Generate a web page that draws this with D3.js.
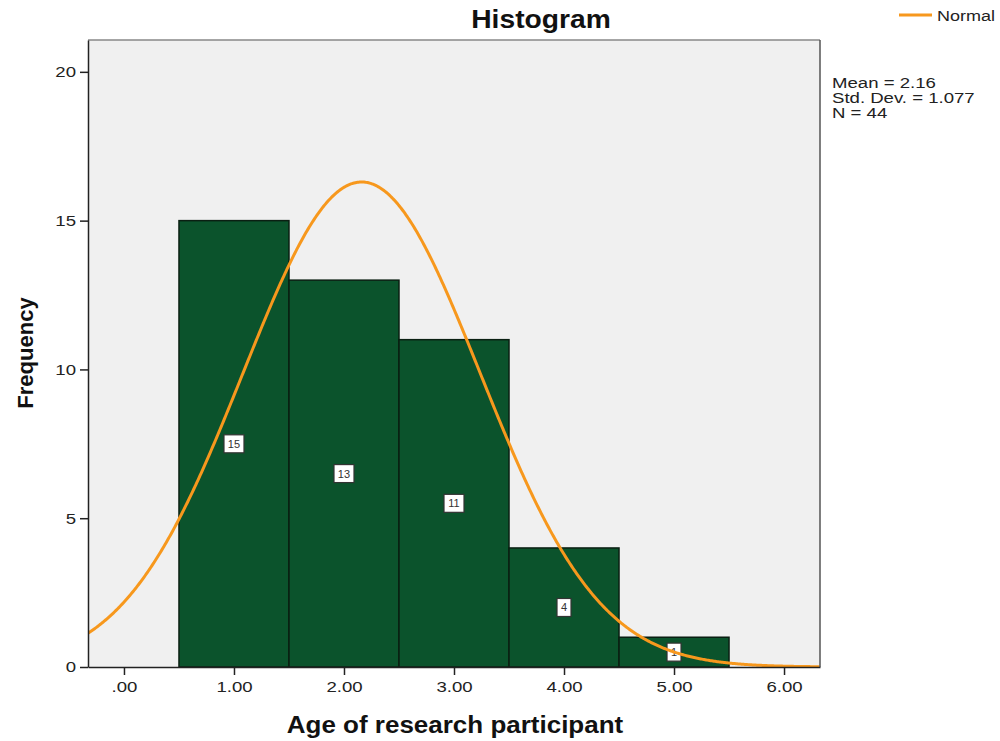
<!DOCTYPE html>
<html>
<head>
<meta charset="utf-8">
<script src="https://cdn.jsdelivr.net/npm/d3@7"></script>
<style>
  body { margin: 0; background: #fff; }
  text { font-family: Arial, "Liberation Sans", sans-serif; }
</style>
</head>
<body>
<div id="chart"></div>
<script>
// bins of the histogram (lower / upper edge) and their counts
const binStart = [0.5, 1.5, 2.5, 3.5, 4.5];
const binEnd = [1.5, 2.5, 3.5, 4.5, 5.5];
const counts = [15, 13, 11, 4, 1];
const xTicks = [0, 1, 2, 3, 4, 5, 6];
const xTickLabels = [".00", "1.00", "2.00", "3.00", "4.00", "5.00", "6.00"];
const yTicks = [0, 5, 10, 15, 20];
const mean = 2.16, sd = 1.077, n = 44;

// SPSS text renders wider than Arial, stretch it a bit
const wide = 1.24, wideBold = 1.13;

var margin = {top: 40, right: 180, bottom: 74, left: 88},
  width = 1000 - margin.left - margin.right,
  height = 741 - margin.top - margin.bottom;

var svgRoot = d3.select("#chart").append("svg")
  .attr("width", 1000).attr("height", 741);
var svg = svgRoot.append("g")
  .attr("transform", "translate(" + margin.left + "," + margin.top + ")");

const x = d3.scaleLinear().domain([-0.327, 6.327]).range([0, width]);
const y = d3.scaleLinear().domain([0, 21.07]).range([height, 0]);

svg.append("defs").append("clipPath").attr("id", "clip")
  .append("rect").attr("width", width).attr("height", height);

// plot background
svg.append("rect")
  .attr("width", width).attr("height", height)
  .attr("fill", "#f0f0f0");

// bars
svg.selectAll(".bar")
  .data(counts)
  .enter().append("rect")
  .attr("x", (d, i) => x(binStart[i]))
  .attr("width", (d, i) => x(binEnd[i]) - x(binStart[i]))
  .attr("y", d => y(d))
  .attr("height", d => height - y(d))
  .attr("fill", "#0b532c")
  .attr("stroke", "#0a1f12")
  .attr("stroke-width", 1.5);

// count labels in the middle of each bar
var lab = svg.selectAll(".lab")
  .data(counts)
  .enter().append("g")
  .attr("transform", (d, i) => "translate(" + x((binStart[i] + binEnd[i]) / 2) + "," + y(d / 2) + ")");
lab.append("rect")
  .attr("x", d => d >= 10 ? -10 : -7).attr("y", -9)
  .attr("width", d => d >= 10 ? 20 : 14).attr("height", 18)
  .attr("fill", "#fff").attr("stroke", "#333").attr("stroke-width", 1.2);
lab.append("text")
  .attr("text-anchor", "middle").attr("dy", "0.36em")
  .attr("font-size", 11).attr("fill", "#333")
  .text(d => d);

// normal curve from mean / sd / N
const scaleF = n * 1 / (sd * Math.sqrt(2 * Math.PI));
const xs = d3.range(-0.327, 6.33, 0.01);
const curve = xs.map(v => [v, scaleF * Math.exp(-0.5 * Math.pow((v - mean) / sd, 2))]);
svg.append("path")
  .datum(curve)
  .attr("clip-path", "url(#clip)")
  .attr("fill", "none")
  .attr("stroke", "#f7981d")
  .attr("stroke-width", 3)
  .attr("d", d3.line().x(d => x(d[0])).y(d => y(d[1])));

// frame
svg.append("line").attr("x1", 0).attr("x2", width).attr("y1", 0).attr("y2", 0)
  .attr("stroke", "#888").attr("stroke-width", 1.5);
svg.append("line").attr("x1", width).attr("x2", width).attr("y1", 0).attr("y2", height)
  .attr("stroke", "#555").attr("stroke-width", 1.5);

// axes
var xAxis = svg.append("g")
  .attr("transform", "translate(0," + height + ")")
  .call(d3.axisBottom(x).tickValues(xTicks).tickSize(8).tickSizeOuter(0).tickPadding(6)
    .tickFormat((d, i) => xTickLabels[i]));
xAxis.select(".domain").attr("stroke", "#222").attr("stroke-width", 1.5);
xAxis.selectAll("line").attr("stroke", "#222").attr("stroke-width", 1.5);
xAxis.selectAll("text").attr("font-size", 15).attr("fill", "#222")
  .style("font-family", "Arial, 'Liberation Sans', sans-serif")
  .attr("transform", "scale(" + wide + ",1)");

var yAxis = svg.append("g")
  .call(d3.axisLeft(y).tickValues(yTicks).tickSize(8).tickSizeOuter(0).tickPadding(4));
yAxis.select(".domain").attr("stroke", "#222").attr("stroke-width", 1.5);
yAxis.selectAll("line").attr("stroke", "#222").attr("stroke-width", 1.5);
yAxis.selectAll("text").attr("font-size", 15).attr("fill", "#222")
  .style("font-family", "Arial, 'Liberation Sans', sans-serif")
  .attr("x", -12 / wide)
  .attr("transform", "scale(" + wide + ",1)");

// titles
svgRoot.append("text")
  .attr("transform", "translate(541,28) scale(" + wideBold + ",1)")
  .attr("text-anchor", "middle")
  .attr("font-size", 25).attr("font-weight", "bold").attr("fill", "#111")
  .text("Histogram");

svgRoot.append("text")
  .attr("transform", "translate(455,733) scale(" + wideBold + ",1)")
  .attr("text-anchor", "middle")
  .attr("font-size", 23).attr("font-weight", "bold").attr("fill", "#111")
  .text("Age of research participant");

svgRoot.append("text")
  .attr("transform", "translate(33,353) rotate(-90)")
  .attr("text-anchor", "middle")
  .attr("font-size", 22).attr("font-weight", "bold").attr("fill", "#111")
  .text("Frequency");

// legend
svgRoot.append("line")
  .attr("x1", 899).attr("x2", 932).attr("y1", 15).attr("y2", 15)
  .attr("stroke", "#f7981d").attr("stroke-width", 3);
svgRoot.append("text")
  .attr("transform", "translate(937,21) scale(1.2,1)")
  .attr("font-size", 15).attr("fill", "#222")
  .text("Normal");

// statistics
const stats = ["Mean = " + mean, "Std. Dev. = " + sd, "N = " + n];
svgRoot.selectAll(".stat")
  .data(stats)
  .enter().append("text")
  .attr("transform", (d, i) => "translate(832," + (88 + i * 15) + ") scale(" + wide + ",1)")
  .attr("font-size", 15).attr("fill", "#222")
  .text(d => d);
</script>
</body>
</html>
